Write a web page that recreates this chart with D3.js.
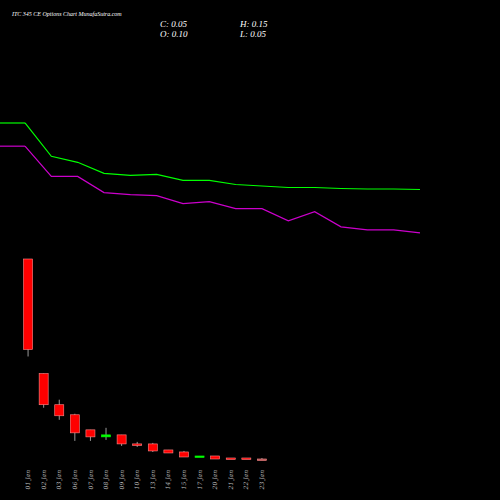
<!DOCTYPE html>
<html><head><meta charset="utf-8">
<script src="https://cdn.jsdelivr.net/npm/d3@7"></script>
<style>body{margin:0;background:#000}</style>
</head><body><div id="chart"></div>
<script>
const dates = ["01 Jan","02 Jan","03 Jan","06 Jan","07 Jan","08 Jan","09 Jan","10 Jan","13 Jan","14 Jan","15 Jan","17 Jan","20 Jan","21 Jan","22 Jan","23 Jan"];
const open  = [10.05,4.35,2.8,2.3,1.55,1.2,1.3,0.85,0.85,0.55,0.45,0.2,0.25,0.15,0.15,0.10];
const close = [5.55,2.8,2.25,1.4,1.2,1.3,0.85,0.8,0.5,0.4,0.2,0.25,0.1,0.1,0.1,0.05];
const high  = [10.05,4.35,3.05,2.35,1.55,1.65,1.3,0.95,0.9,0.55,0.5,0.25,0.25,0.15,0.15,0.15];
const low   = [5.2,2.65,2.05,1.0,1.0,1.05,0.75,0.7,0.45,0.4,0.2,0.2,0.1,0.1,0.1,0.05];
const greenLine  = [25.2,18.6,17.4,15.2,14.8,15.0,13.8,13.8,13.0,12.7,12.4,12.4,12.2,12.1,12.1,12.0];
const purpleLine = [20.6,14.6,14.6,11.4,11.0,10.8,9.2,9.6,8.2,8.2,5.8,7.6,4.6,4.0,4.0,3.4];

const W = 500, H = 500;
const svg = d3.select('#chart').append('svg').attr('width', W).attr('height', H)
  .style('background', '#000');

const x = d3.scaleBand().domain(dates).range([17, 273]).padding(0.42);
const y = d3.scaleLinear().domain([0, 10]).range([461, 260]);
const xl = d3.scalePoint().domain(dates).range([25, 420]);
const yl = d3.scaleLinear().domain([0, 25]).range([250, 124]);

const ln = d3.line().x((d, i) => xl(dates[i])).y(d => yl(d));
[[greenLine, '#00ff00'], [purpleLine, '#cc00cc']].forEach(([s, c]) => {
  svg.append('line').attr('x1', 0).attr('x2', xl(dates[0]))
    .attr('y1', yl(s[0])).attr('y2', yl(s[0])).attr('stroke', c).attr('stroke-width', 1.2);
  svg.append('path').datum(s).attr('d', ln).attr('fill', 'none')
    .attr('stroke', c).attr('stroke-width', 1.2);
});

const g = svg.append('g');
dates.forEach((d, i) => {
  const up = close[i] > open[i];
  const col = up ? '#00ff00' : (i === dates.length - 1 ? '#aa5555' : '#ff0000');
  const cx = x(d) + x.bandwidth() / 2;
  g.append('line').attr('x1', cx).attr('x2', cx).attr('y1', y(high[i])).attr('y2', y(low[i]))
    .attr('stroke', '#999').attr('stroke-width', 1);
  const top = y(Math.max(open[i], close[i])), bot = y(Math.min(open[i], close[i]));
  g.append('rect').attr('x', x(d)).attr('width', x.bandwidth())
    .attr('y', top).attr('height', Math.max(1.5, bot - top))
    .attr('fill', col).attr('stroke', up ? '#00ff00' : '#ff8888').attr('stroke-width', 0.6);
});

const xa = svg.append('g').attr('transform', 'translate(0,468)')
  .call(d3.axisBottom(x).tickSize(0));
xa.select('.domain').remove();
xa.selectAll('text').attr('fill', '#bbb').attr('font-size', 6)
  .attr('font-family', 'DejaVu Serif').attr('font-style', 'italic')
  .attr('transform', 'rotate(-90)').attr('text-anchor', 'end')
  .attr('x', -2).attr('y', 0).attr('dy', '0.35em');

const t = (tx, ty, s, fs) => svg.append('text').attr('x', tx).attr('y', ty).text(s)
  .attr('fill', '#fff').attr('font-size', fs).attr('font-style', 'italic')
  .attr('font-family', 'Liberation Serif');
t(12, 16, 'ITC 345 CE Options  Chart MunafaSutra.com', 6);
t(160, 27, 'C: 0.05', 9);
t(160, 37, 'O: 0.10', 9);
t(240, 27, 'H: 0.15', 9);
t(240, 37, 'L: 0.05', 9);
</script></body></html>
